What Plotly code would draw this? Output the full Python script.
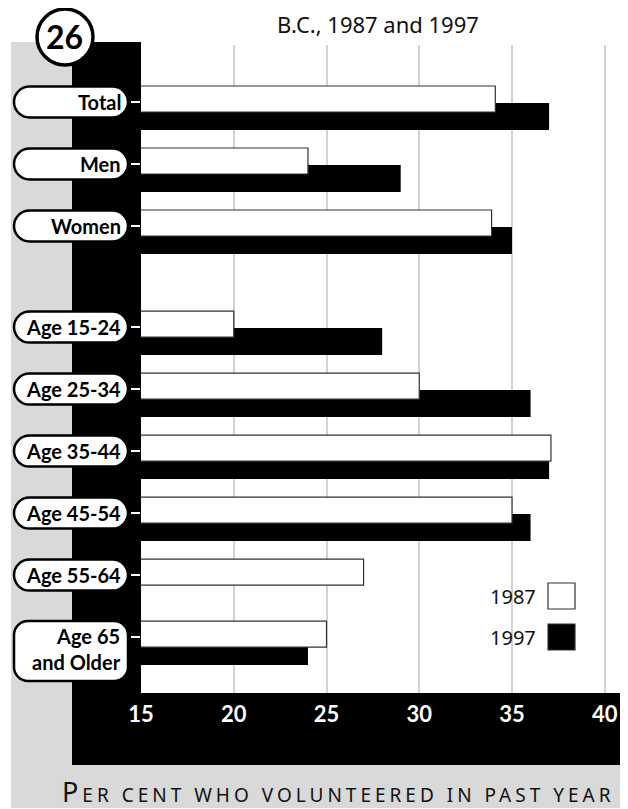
import plotly.graph_objects as go

# ---------------- data ----------------
categories = ["Total", "Men", "Women", "Age 15-24", "Age 25-34", "Age 35-44",
              "Age 45-54", "Age 55-64", "Age 65<br>and Older"]
values_1987 = [34.1, 24, 33.9, 20, 30, 37.1, 35, 27, 25]
values_1997 = [37, 29, 35, 28, 36, 37, 36, None, 24]
series_names = ["1987", "1997"]
x_ticks = [15, 20, 25, 30, 35, 40]
title_text = "B.C., 1987 and 1997"
x_title = "PER CENT WHO VOLUNTEERED IN PAST YEAR"
chart_number = "26"
group_break = 3          # first index of the age group block

# ---------------- layout constants (screen pixels) ----------------
W, H = 628, 809
OFF = 8                  # default page margin around the figure
L, R, T, B = 141, 628, 45, 693   # plot area on screen
ROW = 62.0               # pixels per row
ROW0 = 102.0             # screen y of first row
GAP = 0.63               # extra rows between the two blocks
PX_PER_UNIT = 18.55
X_MIN = 15
X_MAX = X_MIN + (R - L) / PX_PER_UNIT

positions = [i + (GAP if i >= group_break else 0) for i in range(len(categories))]


def fx(px):
    return (px - L) / (R - L)


def fy(py):
    return (B - py) / (B - T)


def rounded_path(x0, y0, x1, y1, r):
    k = 0.5523 * r
    pts = [
        ("M", [(x0 + r, y0)]),
        ("L", [(x1 - r, y0)]),
        ("C", [(x1 - r + k, y0), (x1, y0 + r - k), (x1, y0 + r)]),
        ("L", [(x1, y1 - r)]),
        ("C", [(x1, y1 - r + k), (x1 - r + k, y1), (x1 - r, y1)]),
        ("L", [(x0 + r, y1)]),
        ("C", [(x0 + r - k, y1), (x0, y1 - r + k), (x0, y1 - r)]),
        ("L", [(x0, y0 + r)]),
        ("C", [(x0, y0 + r - k), (x0 + r - k, y0), (x0 + r, y0)]),
    ]
    s = ""
    for cmd, ps in pts:
        s += cmd + " ".join(f"{fx(a):.5f},{fy(b):.5f}" for a, b in ps) + " "
    return s + "Z"


fig = go.Figure()

# 1997 first (drawn underneath), 1987 on top
fig.add_trace(go.Bar(
    y=positions, x=values_1997, orientation="h", name=series_names[1],
    width=27 / ROW, offset=1 / ROW,
    marker=dict(color="black", line=dict(color="black", width=0)),
    showlegend=False,
))
fig.add_trace(go.Bar(
    y=positions, x=values_1987, orientation="h", name=series_names[0],
    width=26 / ROW, offset=-16 / ROW,
    marker=dict(color="white", line=dict(color="#333333", width=1.2)),
    showlegend=False,
))

shapes = []
# grey backdrop
shapes.append(dict(type="rect", xref="paper", yref="paper", layer="below",
                   x0=fx(11), x1=fx(W + 20), y0=fy(808), y1=fy(42),
                   fillcolor="#d9d9d9", line=dict(width=0)))
# white plotting field
shapes.append(dict(type="rect", xref="paper", yref="paper", layer="below",
                   x0=fx(L), x1=fx(W + 20), y0=fy(B), y1=fy(42),
                   fillcolor="white", line=dict(width=0)))
# black left column
shapes.append(dict(type="rect", xref="paper", yref="paper", layer="below",
                   x0=fx(72), x1=fx(L), y0=fy(765), y1=fy(42),
                   fillcolor="black", line=dict(width=0)))
# black axis band
shapes.append(dict(type="rect", xref="paper", yref="paper", layer="below",
                   x0=fx(72), x1=fx(W + 20), y0=fy(765), y1=fy(B),
                   fillcolor="black", line=dict(width=0)))

annotations = []
for cat, pos in zip(categories, positions):
    cy = ROW0 + ROW * pos
    nlines = cat.count("<br>") + 1
    if nlines == 1:
        y0, y1, rad, shift = cy - 15.5, cy + 15.5, 15.5, 0
    else:
        y0, y1, rad, shift = cy - 16, cy + 44, 14, -12
    shapes.append(dict(type="path", xref="paper", yref="paper", layer="above",
                       path=rounded_path(14, y0, 128, y1, rad),
                       fillcolor="white", line=dict(color="black", width=2.5)))
    annotations.append(dict(
        x=fx(123), xref="paper", xanchor="right",
        y=pos, yref="y", yanchor="middle", yshift=shift,
        text="<b>" + cat + "</b>", showarrow=False, align="right",
        font=dict(family="Lato", size=20, color="black"),
    ))

# chart number badge
cx, cyb, cr = 65, 37, 28
shapes.append(dict(type="circle", xref="paper", yref="paper", layer="above",
                   x0=fx(cx - cr), x1=fx(cx + cr), y0=fy(cyb + cr), y1=fy(cyb - cr),
                   fillcolor="white", line=dict(color="black", width=3.5)))
annotations.append(dict(x=fx(cx - 1), y=fy(cyb), xref="paper", yref="paper",
                        xanchor="center", yanchor="middle",
                        text="<b>" + chart_number + "</b>", showarrow=False,
                        font=dict(family="Lato", size=32, color="black")))

# legend (text left of swatch)
legend_rows = [(series_names[0], 596, "white"), (series_names[1], 637, "black")]
for name, ly, col in legend_rows:
    shapes.append(dict(type="rect", xref="paper", yref="paper", layer="above",
                       x0=fx(548), x1=fx(575), y0=fy(ly + 13), y1=fy(ly - 13),
                       fillcolor=col, line=dict(color="#333333", width=1.2)))
    annotations.append(dict(x=fx(538), y=fy(ly), xref="paper", yref="paper",
                            xanchor="right", yanchor="middle", text=name,
                            showarrow=False,
                            font=dict(family="Noto Sans", size=20, color="#111111")))

# title (subtitle line)
annotations.append(dict(x=fx(378), y=fy(24), xref="paper", yref="paper",
                        xanchor="center", yanchor="middle",
                        text=title_text, showarrow=False,
                        font=dict(family="Noto Sans", size=22, color="#111111")))

# x axis title in small caps
annotations.append(dict(
    x=fx(338), y=fy(791), xref="paper", yref="paper", showarrow=False,
    xanchor="center", yanchor="middle",
    text=("<span style='font-size:27px;letter-spacing:4px'>" + x_title[0] + "</span>"
          "<span style='letter-spacing:4px'>" + x_title[1:] + "</span>"),
    font=dict(family="Noto Sans", size=19, color="#111111"),
))

fig.update_layout(
    width=W, height=H, autosize=False,
    margin=dict(l=L - OFF, r=W - (R - OFF), t=T - OFF, b=H - (B - OFF), pad=0),
    paper_bgcolor="white", plot_bgcolor="rgba(0,0,0,0)",
    barmode="overlay",
    shapes=shapes, annotations=annotations,
    xaxis=dict(
        range=[X_MIN, X_MAX], tickmode="array", tickvals=x_ticks,
        ticktext=[str(v) for v in x_ticks], ticks="", showgrid=False,
        zeroline=False, showline=False, ticklabelstandoff=6,
        tickfont=dict(family="Lato", size=22, color="white", weight="bold"),
        minor=dict(tickmode="array", tickvals=x_ticks[1:], showgrid=True,
                   gridcolor="#d2d2d2", gridwidth=2, ticks=""),
        fixedrange=True,
    ),
    yaxis=dict(
        range=[(B - ROW0) / ROW, (T - ROW0) / ROW], tickmode="array",
        tickvals=positions, showticklabels=False, ticks="outside",
        ticklen=9, tickwidth=2, tickcolor="white", showgrid=False,
        zeroline=False, showline=False, fixedrange=True,
    ),
)

fig.write_html("out.html")
